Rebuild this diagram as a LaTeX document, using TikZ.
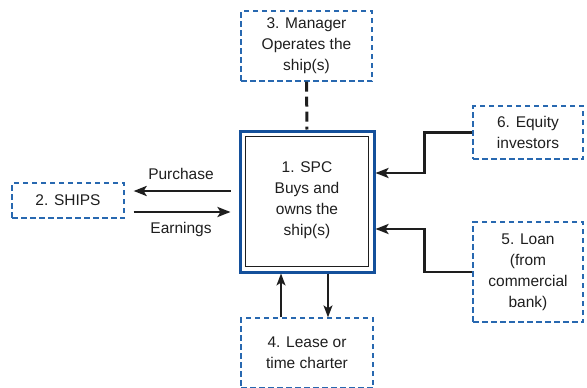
\documentclass[tikz,border=0pt]{standalone}
\usepackage{fontspec}
\setmainfont{Liberation Sans}
\usetikzlibrary{arrows.meta,calc}
\definecolor{boxblue}{RGB}{40,104,176}
\definecolor{spcblue}{RGB}{20,80,155}
\definecolor{ink}{RGB}{30,30,30}
\begin{document}
\begin{tikzpicture}[x=1pt,y=-1pt,
  every node/.style={font=\fontsize{15.5}{21}\selectfont, text=ink, align=center, inner sep=0pt},
  dbox/.style={draw=boxblue, line width=1.3pt, dash pattern=on 5.5pt off 3.5pt},
  flow/.style={draw=ink, line width=2.6pt, -{Stealth[length=13pt,width=10pt,inset=3pt]}},
  thinflow/.style={draw=ink, line width=1.6pt, -{Stealth[length=12pt,width=9pt,inset=3pt]}}]
\useasboundingbox (0,0) rectangle (587,388);
% central box
\node[draw=spcblue, line width=3pt, minimum width=134pt, minimum height=141pt] (spc) at (307,201.5) {};
\node[draw=ink, line width=1.4pt, minimum width=123pt, minimum height=130pt] (spcin) at (307,201.5) {};
\node (spct) at (307,200) {1. SPC\\Buys and\\owns the\\ship(s)};
% other boxes
\node[dbox, minimum width=131pt, minimum height=70pt] (b3) at (306.5,46) {3. Manager\\Operates the\\ship(s)};
\node[dbox, minimum width=112pt, minimum height=35pt] (b2) at (68,200.5) {2. SHIPS};
\node[dbox, minimum width=110pt, minimum height=53pt] (b6) at (528,132.5) {6. Equity\\investors};
\node[dbox, minimum width=110pt, minimum height=100pt] (b5) at (528,272) {5. Loan\\(from\\commercial\\bank)};
\node[dbox, minimum width=132pt, minimum height=70pt] (b4) at (307,353) {4. Lease or\\time charter};
% manager link
\draw[ink, line width=3pt, dash pattern=on 10pt off 5pt] (b3.south) -- (spc.north);
% ships arrows
\coordinate (pA) at ($(spc.west)+(-8,-10.5)$);
\coordinate (pB) at ($(b2.east)+(9,-9.5)$);
\coordinate (eA) at ($(b2.east)+(9,11.5)$);
\coordinate (eB) at ($(spc.west)+(-8,10.5)$);
\draw[flow] (pA) -- (pB);
\draw[flow] (eA) -- (eB);
\node at (181,174) {Purchase};
\node at (181,229) {Earnings};
% investors and loan
\draw[flow] (b6.west) -| ($(b6.west)+(-48,20)$) |- ($(spc.east)+(0,-28.5)$);
\draw[flow] (b5.west) -| ($(b5.west)+(-48,-20)$) |- ($(spc.east)+(0,27.5)$);
% lease arrows
\draw[thinflow] ($(b4.north)+(-26,0)$) -- ($(spc.south)+(-26,0)$);
\draw[thinflow] ($(spc.south)+(21,0)$) -- ($(b4.north)+(21,0)$);
\end{tikzpicture}
\end{document}
